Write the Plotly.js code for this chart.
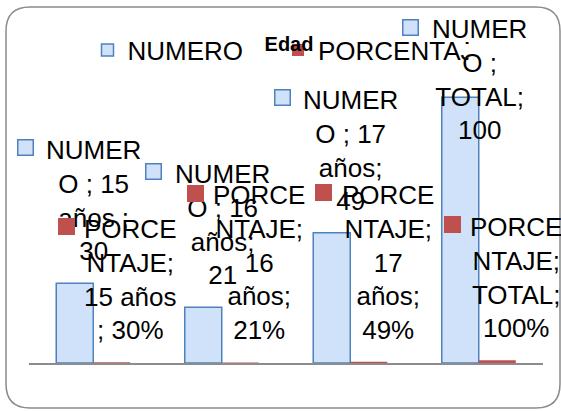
<!DOCTYPE html>
<html><head><meta charset="utf-8">
<script src="https://cdn.plot.ly/plotly-3.0.1.min.js"></script>
<style>html,body{margin:0;padding:0;background:#fff}#chart{width:561px;height:411px}</style>
</head><body><div id="chart"></div>
<script>
// ---- data ----
const categories = ['15 años', '16 años', '17 años', 'TOTAL'];
const numero = [30, 21, 49, 100];
const porcentaje = [0.30, 0.21, 0.49, 1.00];
const seriesNames = ['NUMERO', 'PORCENTAJE'];
const chartTitle = 'Edad';
const numeroLabelLines = [
  ['NUMER', 'O ; 15', 'años ;', '30'],
  ['NUMER', 'O ; 16', 'años;', '21'],
  ['NUMER', 'O ; 17', 'años;', '49'],
  ['NUMER', 'O ;', 'TOTAL;', '100']
];
const porcentajeLabelLines = [
  ['PORCE', 'NTAJE;', '15 años', '; 30%'],
  ['PORCE', 'NTAJE;', '16', 'años;', '21%'],
  ['PORCE', 'NTAJE;', '17', 'años;', '49%'],
  ['PORCE', 'NTAJE;', 'TOTAL;', '100%']
];

// ---- layout constants ----
const W = 561, H = 411;
const M = {l: 29, r: 18, t: 44, b: 48, autoexpand: false};
const yMax = 120;
const bargap = 0.424;
const plotW = W - M.l - M.r, plotH = H - M.t - M.b;
const slot = plotW / categories.length;
const barW = slot * (1 - bargap) / 2;
const FS = 26, LS = FS * 1.3;
const FONT = 'Liberation Sans, Arial, sans-serif';
const blue = '#4f81bd', fillBlue = '#cfe2fa', red = '#c0504d';

function yPx(v) { return M.t + plotH * (1 - v / yMax); }

const annotations = [];
function addLabel(cat, value, lines, barOffset, keyOffset, keyKind) {
  const n = lines.length;
  const textShift = barOffset + 19;
  let up = 32 + (n - 1) * LS / 2;
  const barTop = yPx(value);
  const topLineCenter = barTop - up - (n - 1) * LS / 2;
  if (topLineCenter < 29) up -= (29 - topLineCenter);
  annotations.push({
    xref: 'x', yref: 'y', x: cat, y: value, xshift: textShift, yshift: up,
    text: lines.join('<br>'), showarrow: false, xanchor: 'center', yanchor: 'middle',
    align: 'center', font: {family: FONT, size: FS, color: '#000'}
  });
  const key = {
    xref: 'x', yref: 'y', x: cat, y: value, xshift: textShift + keyOffset,
    yshift: up + (n - 1) * LS / 2 + 2, text: ' ', showarrow: false,
    xanchor: 'center', yanchor: 'middle', borderpad: 0, font: {size: 4}
  };
  if (keyKind === 'numero') {
    Object.assign(key, {width: 14, height: 14, bgcolor: fillBlue, bordercolor: blue, borderwidth: 1.5});
  } else {
    Object.assign(key, {width: 17, height: 17, bgcolor: red, borderwidth: 0});
  }
  annotations.push(key);
}
categories.forEach((c, i) => {
  addLabel(c, numero[i], numeroLabelLines[i], -barW / 2, -68.5, 'numero');
  addLabel(c, porcentaje[i], porcentajeLabelLines[i], barW / 2, -64, 'pct');
});

// rounded frame
function px(xp) { return (xp - M.l) / plotW; }
function py(yp) { return (M.t + plotH - yp) / plotH; }
const fx0 = 6, fx1 = 560, fy0 = 7, fy1 = 408, rr = 24;
const framePath =
  `M${px(fx0 + rr)},${py(fy0)} L${px(fx1 - rr)},${py(fy0)} Q${px(fx1)},${py(fy0)} ${px(fx1)},${py(fy0 + rr)} ` +
  `L${px(fx1)},${py(fy1 - rr)} Q${px(fx1)},${py(fy1)} ${px(fx1 - rr)},${py(fy1)} ` +
  `L${px(fx0 + rr)},${py(fy1)} Q${px(fx0)},${py(fy1)} ${px(fx0)},${py(fy1 - rr)} ` +
  `L${px(fx0)},${py(fy0 + rr)} Q${px(fx0)},${py(fy0)} ${px(fx0 + rr)},${py(fy0)} Z`;

const traces = [
  {type: 'bar', name: seriesNames[0], x: categories, y: numero,
   marker: {color: fillBlue, line: {color: blue, width: 1.5}}, hoverinfo: 'none'},
  {type: 'bar', name: seriesNames[1], x: categories, y: porcentaje,
   marker: {color: red, line: {width: 0}}, hoverinfo: 'none'}
];

const layout = {
  width: W, height: H,
  margin: M,
  paper_bgcolor: '#fff', plot_bgcolor: 'rgba(0,0,0,0)',
  barmode: 'group', bargap: bargap, bargroupgap: 0,
  font: {family: FONT, color: '#000'},
  title: {text: '<b>' + chartTitle + '</b>', font: {family: FONT, size: 20, color: '#000'},
          x: 289 / W, xref: 'container', xanchor: 'center',
          y: 1 - 44 / H, yref: 'container', yanchor: 'middle'},
  showlegend: true,
  legend: {orientation: 'h', x: 87.5 / W, xref: 'container', xanchor: 'left',
           y: 1 - 50 / H, yref: 'container', yanchor: 'middle',
           font: {family: FONT, size: FS, color: '#000'}, entrywidth: 145.5,
           bgcolor: 'rgba(0,0,0,0)', traceorder: 'normal'},
  xaxis: {type: 'category', range: [-0.5, categories.length - 0.5], showline: true,
          linecolor: '#8c8c8c', linewidth: 1.5, showticklabels: false, ticks: '',
          showgrid: false, zeroline: false},
  yaxis: {range: [0, yMax], visible: false, showgrid: false, zeroline: false},
  annotations: annotations,
  shapes: [{type: 'path', xref: 'paper', yref: 'paper', path: framePath,
            line: {color: '#8a8a8a', width: 1.5}, fillcolor: 'rgba(0,0,0,0)'}]
};

Plotly.newPlot('chart', traces, layout, {staticPlot: true, displayModeBar: false});
</script>
</body></html>
